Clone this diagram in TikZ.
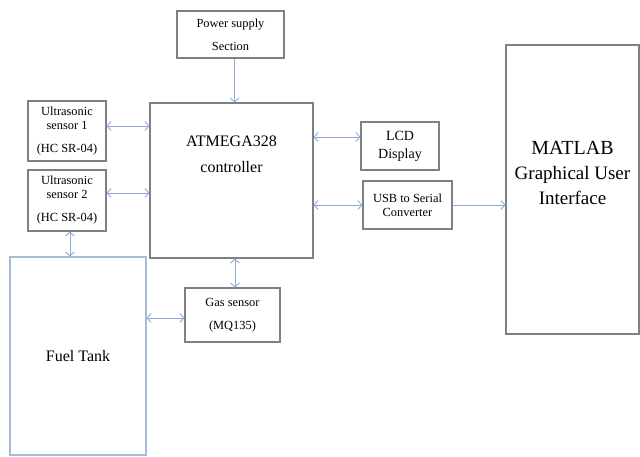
\documentclass[tikz,border=0pt]{standalone}
\usepackage{fontspec}
\setmainfont{Liberation Serif}
\usetikzlibrary{arrows.meta,positioning}
\definecolor{boxgrey}{HTML}{808080}
\definecolor{linkblue}{HTML}{8EAADB}
\definecolor{tankblue}{HTML}{A8BAD9}

\begin{document}
\begin{tikzpicture}[
  x=1pt, y=-1pt,
  font=\fontsize{12.4}{14}\selectfont,
  box/.style={draw=boxgrey, line width=1.1pt, align=center, inner sep=0pt},
  tank/.style={draw=tankblue, line width=1.1pt, align=center, inner sep=0pt},
  arrow/.style={-{Straight Barb[length=4pt,width=9pt]}, line width=0.9pt, draw=linkblue},
  both/.style={{Straight Barb[length=4pt,width=9pt]}-{Straight Barb[length=4pt,width=9pt]}, line width=0.9pt, draw=linkblue}
]
\useasboundingbox (0,0) rectangle (640,457);

\node[box, minimum width=107pt, minimum height=47pt] (power) at (230.5,34.5)
  {Power supply\\[9pt]Section};
\node[box, minimum width=163pt, minimum height=155pt,
  label={[name=ctrltext, anchor=north, yshift=-30pt, align=center,
    font=\fontsize{16}{26}\selectfont]north:ATMEGA328\\controller}]
  (controller) at (231.5,180.5) {};

\node[box, minimum width=78pt, minimum height=60pt] (us1) at (67,131)
  {Ultrasonic\\sensor 1\\[9pt](HC SR-04)};
\node[box, minimum width=78pt, minimum height=61pt] (us2) at (67,200.5)
  {Ultrasonic\\sensor 2\\[9pt](HC SR-04)};
\node[tank, minimum width=136pt, minimum height=198pt,
  font=\fontsize{16}{19}\selectfont] (fuel) at (78,356) {Fuel Tank};
\node[box, minimum width=95pt, minimum height=54pt] (gas) at (232.5,315)
  {Gas sensor\\[9pt](MQ135)};

\node[box, minimum width=78pt, minimum height=48pt,
  font=\fontsize{14}{18}\selectfont] (lcd) at (400,146) {LCD\\Display};
\node[box, minimum width=89pt, minimum height=48pt] (usb) at (407.5,205)
  {USB to Serial\\Converter};
\node[box, minimum width=133pt, minimum height=289pt,
  label={[name=guitext, anchor=north, yshift=-93pt, align=center,
    font=\fontsize{19}{25}\selectfont]north:{\fontsize{20}{25}\selectfont MATLAB}\\Graphical User\\Interface}]
  (matlab) at (572.5,189.5) {};

\draw[arrow] ([xshift=4pt]power.south) -- ([xshift=4pt]power.south |- controller.north);
\draw[both] ([yshift=5pt]us1.east) -- ([yshift=5pt]us1.east -| controller.west);
\draw[both] ([yshift=7.5pt]us2.east) -- ([yshift=7.5pt]us2.east -| controller.west);
\draw[both] ([xshift=3pt]us2.south) -- ([xshift=3pt]us2.south |- fuel.north);
\draw[both] ([yshift=9pt]lcd.west -| controller.east) -- ([yshift=9pt]lcd.west);
\draw[both] (usb.west -| controller.east) -- (usb.west);
\draw[arrow] (usb.east) -- (usb.east -| matlab.west);
\draw[both] ([xshift=2.5pt]gas.north |- controller.south) -- ([xshift=2.5pt]gas.north);
\draw[both] ([yshift=-3pt]gas.west -| fuel.east) -- ([yshift=-3pt]gas.west);

\end{tikzpicture}
\end{document}
